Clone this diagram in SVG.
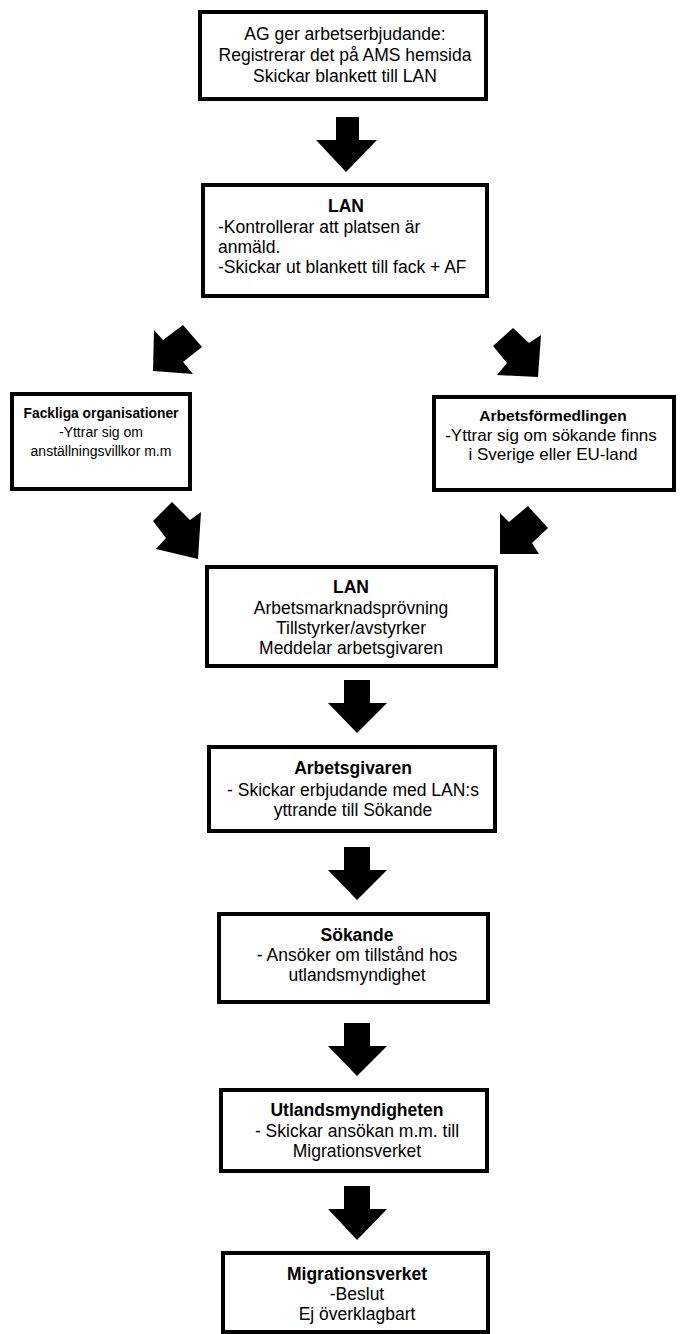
<svg xmlns="http://www.w3.org/2000/svg" width="684" height="1334" viewBox="0 0 684 1334">
<style>
.box{fill:#fff;stroke:#000;stroke-width:4}
.t{font-family:"Liberation Sans",Arial,sans-serif;font-size:17.5px;fill:#000}
.s{font-size:14px}
.c{text-anchor:middle}
.b{font-weight:bold}
.arr{fill:#000;stroke:none}
</style>
<rect width="684" height="1334" fill="#fff"/>
<g id="connectors">
<polygon class="arr" points="336,117 359,117 359,140 377,140 346,172 316,140 336,140"/>
<polygon class="arr" points="154,330 163,340 183,325 202,347 183,362 193,374 153,371"/>
<polygon class="arr" points="493,346 513,328 529,343 541,335 538,377 497,375 507,363"/>
<polygon class="arr" points="153,521 172,502 190,520 201,512 198,559 156,549 166,538"/>
<polygon class="arr" points="500,513 509,522 528,506 548,528 532,543 539,554 500,554"/>
<polygon class="arr" points="344,680 370,680 370,703 387,703 357,733 328,703 344,703"/>
<polygon class="arr" points="344,847 370,847 370,870 387,870 357,900 328,870 344,870"/>
<polygon class="arr" points="344,1023 370,1023 370,1046 387,1046 357,1076 328,1046 344,1046"/>
<polygon class="arr" points="344,1186 370,1186 370,1209 387,1209 357,1240 328,1209 344,1209"/>
</g>
<g id="n1">
<rect class="box" x="200" y="12" width="286" height="87"/>
<text class="t c" x="345" y="40">AG ger arbetserbjudande:</text>
<text class="t c" x="345" y="61">Registrerar det på AMS hemsida</text>
<text class="t c" x="345" y="82">Skickar blankett till LAN</text>
</g>
<g id="n2">
<rect class="box" x="203" y="185" width="284" height="111"/>
<text class="t c b" x="346" y="212">LAN</text>
<text class="t" x="218" y="233">-Kontrollerar att platsen är</text>
<text class="t" x="218" y="253">anmäld.</text>
<text class="t" x="218" y="273">-Skickar ut blankett till fack + AF</text>
</g>
<g id="n3">
<rect class="box" x="12" y="394" width="178" height="95"/>
<text class="t c b" x="101" y="418" style="font-size:13.8px">Fackliga organisationer</text>
<text class="t c s" x="101" y="437">-Yttrar sig om</text>
<text class="t c s" x="101" y="456">anställningsvillkor m.m</text>
</g>
<g id="n4">
<rect class="box" x="434" y="397" width="240" height="93"/>
<text class="t c b" x="553" y="421" style="font-size:15.5px">Arbetsförmedlingen</text>
<text class="t c" x="551" y="441" style="font-size:17px">-Yttrar sig om sökande finns</text>
<text class="t c" x="553" y="460" style="font-size:17px">i Sverige eller EU-land</text>
</g>
<g id="n5">
<rect class="box" x="207" y="567" width="289" height="99"/>
<text class="t c b" x="351" y="593">LAN</text>
<text class="t c" x="351" y="614">Arbetsmarknadsprövning</text>
<text class="t c" x="351" y="634">Tillstyrker/avstyrker</text>
<text class="t c" x="351" y="654">Meddelar arbetsgivaren</text>
</g>
<g id="n6">
<rect class="box" x="209" y="747" width="286" height="84"/>
<text class="t c b" x="353" y="774">Arbetsgivaren</text>
<text class="t c" x="353" y="796">- Skickar erbjudande med LAN:s</text>
<text class="t c" x="353" y="816">yttrande till Sökande</text>
</g>
<g id="n7">
<rect class="box" x="219" y="914" width="269" height="88"/>
<text class="t c b" x="357" y="941">Sökande</text>
<text class="t c" x="357" y="961">- Ansöker om tillstånd hos</text>
<text class="t c" x="357" y="981">utlandsmyndighet</text>
</g>
<g id="n8">
<rect class="box" x="221" y="1090" width="266" height="81"/>
<text class="t c b" x="357" y="1116">Utlandsmyndigheten</text>
<text class="t c" x="357" y="1137">- Skickar ansökan m.m. till</text>
<text class="t c" x="357" y="1157">Migrationsverket</text>
</g>
<g id="n9">
<rect class="box" x="223" y="1253" width="265" height="79"/>
<text class="t c b" x="357" y="1280">Migrationsverket</text>
<text class="t c" x="357" y="1300">-Beslut</text>
<text class="t c" x="357" y="1320">Ej överklagbart</text>
</g>
</svg>
